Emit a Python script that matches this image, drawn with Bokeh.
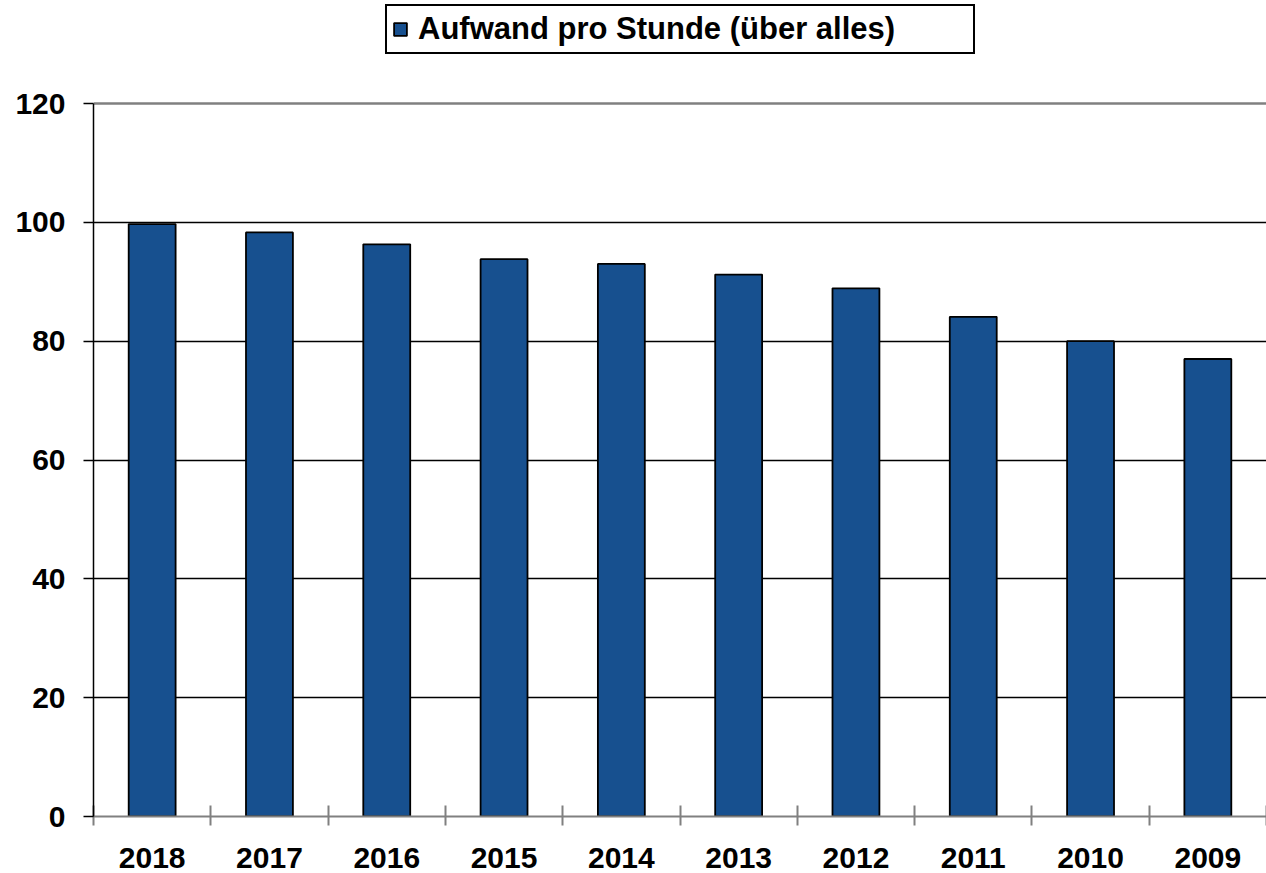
from bokeh.plotting import figure
from bokeh.models import Range1d, FixedTicker, Grid, Legend, LegendItem, ColumnDataSource
from bokeh.embed import file_html
from bokeh.resources import INLINE

# ---- data ----
years = ["2018", "2017", "2016", "2015", "2014", "2013", "2012", "2011", "2010", "2009"]
values = [99.7, 98.3, 96.3, 93.8, 93.0, 91.2, 88.9, 84.1, 80.0, 77.0]
series_name = "Aufwand pro Stunde (über alles)"
y_ticks = [0, 20, 40, 60, 80, 100, 120]

FONT = "Liberation Sans"
BAR = "#17508F"

# layout (pixels)
W, H = 1266, 873
LEFT, BOTTOM = 93, 57
PLOT_TOP = 103                      # pixel row of the top value line
FRAME_H = H - BOTTOM                # frame spans whole height so the legend fits inside it
PLOT_H = FRAME_H - PLOT_TOP
y_top = y_ticks[-1] * FRAME_H / PLOT_H

n = len(years)
centers = [i + 0.5 for i in range(n)]
bounds = [i for i in range(n + 1)]
src = ColumnDataSource(dict(x=centers, year=years, value=values))

p = figure(width=W, height=H, frame_width=W - LEFT, frame_height=FRAME_H,
           x_range=Range1d(0, n), y_range=Range1d(y_ticks[0], y_top),
           output_backend="svg", toolbar_location=None,
           min_border_left=LEFT, min_border_top=0, min_border_bottom=BOTTOM,
           min_border_right=0, outline_line_color=None,
           background_fill_color="white", border_fill_color="white")

r = p.vbar(x="x", top="value", width=0.4, source=src,
           fill_color=BAR, line_color="black", line_width=1.8)

# x axis: labels at category centers, boundary ticks as minor ticks
xa = p.xaxis[0]
xa.ticker = FixedTicker(ticks=centers, minor_ticks=bounds)
xa.major_label_overrides = {c: y for c, y in zip(centers, years)}
xa.major_tick_in = 0
xa.major_tick_out = 0
xa.minor_tick_in = 11
xa.minor_tick_out = 9
xa.minor_tick_line_color = "#808080"
xa.minor_tick_line_width = 2
xa.axis_line_color = "#808080"
xa.axis_line_width = 2
xa.major_label_standoff = 22
xa.major_label_text_font = FONT
xa.major_label_text_font_style = "bold"
xa.major_label_text_font_size = "30px"
xa.major_label_text_color = "black"

# y axis (line limited to the value range)
ya = p.yaxis[0]
ya.bounds = (y_ticks[0], y_ticks[-1])
ya.ticker = FixedTicker(ticks=y_ticks, minor_ticks=[])
ya.major_tick_in = 0
ya.major_tick_out = 10
ya.major_tick_line_color = "black"
ya.major_tick_line_width = 1.5
ya.axis_line_color = "black"
ya.axis_line_width = 1.5
ya.major_label_standoff = 18
ya.major_label_text_font = FONT
ya.major_label_text_font_style = "bold"
ya.major_label_text_font_size = "30px"
ya.major_label_text_color = "black"

# grids
p.xgrid.visible = False
p.ygrid.ticker = FixedTicker(ticks=y_ticks[1:-1])
p.ygrid.grid_line_color = "black"
p.ygrid.grid_line_width = 1.5
top_grid = Grid(dimension=1, ticker=FixedTicker(ticks=[y_ticks[-1]]),
                grid_line_color="#808080", grid_line_width=2.5)
p.add_layout(top_grid, "center")

# legend at the top, above the value area
legend = Legend(items=[LegendItem(label=series_name, renderers=[r])],
                location=(292, FRAME_H - 54),
                padding=5, spacing=0, margin=0,
                glyph_width=16, glyph_height=16, label_standoff=10,
                label_width=550,
                label_text_font=FONT, label_text_font_style="bold",
                label_text_font_size="31px", label_text_color="black",
                border_line_color="black", border_line_width=2,
                border_line_alpha=1.0,
                background_fill_color="white", background_fill_alpha=1.0)
p.add_layout(legend, "center")

open("out.html", "w").write(file_html(p, INLINE))
